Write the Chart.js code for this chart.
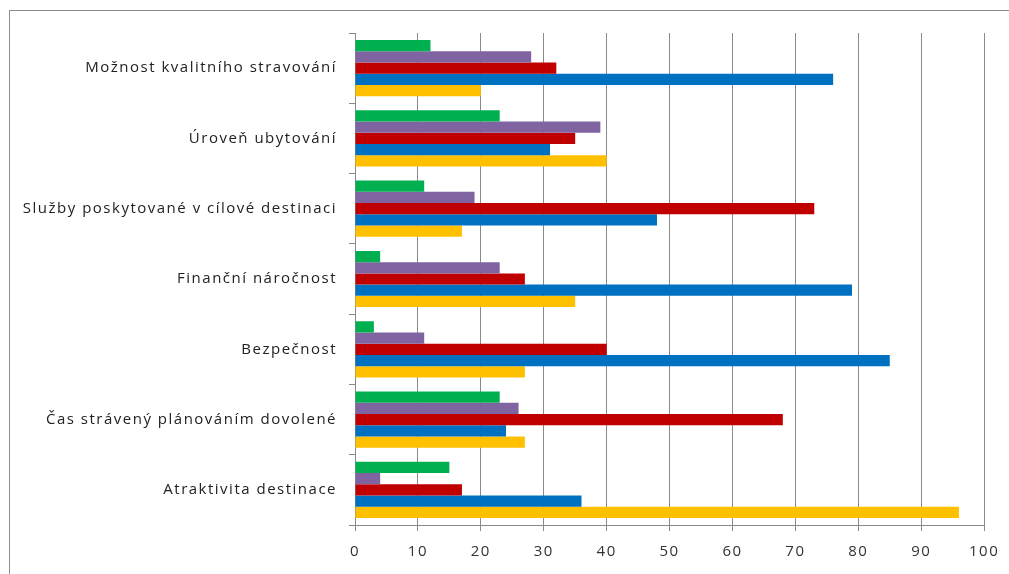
<!DOCTYPE html>
<html>
<head>
<meta charset="utf-8">
<script src="https://cdn.jsdelivr.net/npm/chart.js@4"></script>
<style>
    body { margin: 0; overflow: hidden; background: #fff; }
    #frame { position: absolute; left: 9px; top: 10px; width: 1100px; height: 700px; border: 1px solid #8c8c8c; }
    #wrap { position: absolute; left: 0; top: 0; width: 1009px; height: 574px; }
</style>
</head>
<body>
<div id="frame"></div>
<div id="wrap"><canvas id="chartCanvas"></canvas></div>
<script>
const categories = [
    "Možnost kvalitního stravování",
    "Úroveň ubytování",
    "Služby poskytované v cílové destinaci",
    "Finanční náročnost",
    "Bezpečnost",
    "Čas strávený plánováním dovolené",
    "Atraktivita destinace"
];

const greenValues  = [12, 23, 11, 4, 3, 23, 15];
const purpleValues = [28, 39, 19, 23, 11, 26, 4];
const redValues    = [32, 35, 73, 27, 40, 68, 17];
const blueValues   = [76, 31, 48, 79, 85, 24, 36];
const yellowValues = [20, 40, 17, 35, 27, 27, 96];

const xTicks = [0, 10, 20, 30, 40, 50, 60, 70, 80, 90, 100];

const font = { family: "Open Sans", size: 15 };

function bar(label, data, color) {
    return {
        label,
        data,
        backgroundColor: color,
        borderWidth: 0,
        categoryPercentage: 0.8,
        barPercentage: 1.0
    };
}

// the reference text is spread out a bit, so widen the letters
const spacing = {
    id: "spacing",
    beforeDraw(chart) { chart.ctx.letterSpacing = "1.5px"; }
};

new Chart(document.getElementById("chartCanvas"), {
    type: "bar",
    data: {
        labels: categories,
        datasets: [
            bar("green", greenValues, "#00b050"),
            bar("purple", purpleValues, "#8064a2"),
            bar("red", redValues, "#c00000"),
            bar("blue", blueValues, "#0070c0"),
            bar("yellow", yellowValues, "#ffc000")
        ]
    },
    plugins: [spacing],
    options: {
        indexAxis: "y",
        responsive: true,
        maintainAspectRatio: false,
        animation: false,
        layout: { padding: { top: 33, right: 24, left: 0, bottom: 0 } },
        plugins: {
            legend: { display: false },
            tooltip: { enabled: false }
        },
        scales: {
            x: {
                min: 0,
                max: 100,
                afterBuildTicks: (s) => { s.ticks = xTicks.map(v => ({ value: v })); },
                afterFit: (s) => { s.height = 49; },
                grid: { color: "#8a8a8a", lineWidth: 1, tickLength: 6 },
                border: { color: "#8a8a8a" },
                ticks: { color: "#333", font, padding: 12 }
            },
            y: {
                afterFit: (s) => { s.width = 355; },
                grid: { drawOnChartArea: false, color: "#8a8a8a", tickLength: 6 },
                border: { color: "#8a8a8a" },
                ticks: { color: "#222", font, padding: 12 }
            }
        }
    }
});
</script>
</body>
</html>
